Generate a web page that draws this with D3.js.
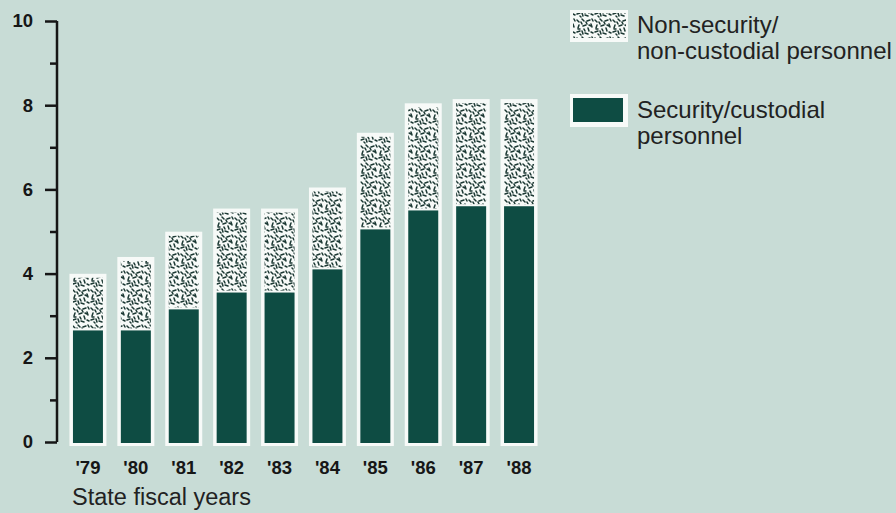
<!DOCTYPE html>
<html>
<head>
<meta charset="utf-8">
<script src="https://cdn.jsdelivr.net/npm/d3@7"></script>
<style>
  html, body { margin: 0; padding: 0; background: #c8dcd6; }
  svg { display: block; }
</style>
</head>
<body>
<svg id="chart" width="896" height="513"></svg>
<script>
// ---- data ----
const years = ["'79", "'80", "'81", "'82", "'83", "'84", "'85", "'86", "'87", "'88"];
const security = [2.65, 2.65, 3.15, 3.55, 3.55, 4.1, 5.05, 5.5, 5.6, 5.6];
const nonSecurity = [1.25, 1.65, 1.75, 1.9, 1.9, 1.85, 2.2, 2.45, 2.45, 2.45];
const yTicks = [0, 2, 4, 6, 8, 10];
const yMinorTicks = [1, 3, 5, 7, 9];
const legendLabels = [
  ["Non-security/", "non-custodial personnel"],
  ["Security/custodial", "personnel"]
];
const xTitle = "State fiscal years";

// ---- styles ----
const bg = "#c8dcd6";
const dark = "#0e4c43";
const speck = "#1b3833";
const ink = "#161616";
const font = "'Liberation Sans', Arial, Helvetica, sans-serif";

const svg = d3.select("#chart");
svg.append("rect").attr("width", 896).attr("height", 513).attr("fill", bg);

// speckle pattern (texture only)
const defs = svg.append("defs");
const pat = defs.append("pattern").attr("id", "speckle")
  .attr("patternUnits", "userSpaceOnUse").attr("width", 18).attr("height", 18);
pat.append("rect").attr("width", 18).attr("height", 18).attr("fill", "#f7faf8");
const strokes = [
  [1,2,3,4],[6,1,8,3],[11,3,14,2],[15,6,16,9],[3,7,2,10],[7,8,10,7],
  [12,10,13,13],[1,14,4,13],[6,13,7,16],[9,15,12,16],[15,14,17,15],[10,4,11,6],
  [4,16,5,17],[16,1,17,3],[5,4,6,6],[13,7,15,8],[8,11,9,13],[2,11,4,11]
];
pat.selectAll("line").data(strokes).join("line")
  .attr("x1", d => d[0]).attr("y1", d => d[1]).attr("x2", d => d[2]).attr("y2", d => d[3])
  .attr("stroke", speck).attr("stroke-width", 1.5).attr("stroke-linecap", "round");

// ---- scales ----
const x = d3.scaleBand().domain(years).range([64, 543]).paddingInner(0.374).paddingOuter(0.187);
const y = d3.scaleLinear().domain([0, 10]).range([442, 21]);

const data = years.map((yr, i) => ({ yr, sec: security[i], non: nonSecurity[i] }));

// ---- bars ----
const g = svg.append("g");
const bw = x.bandwidth();
g.selectAll("rect.frame").data(data).join("rect").attr("class", "frame")
  .attr("x", d => x(d.yr) - 3.5).attr("width", bw + 7)
  .attr("y", d => y(d.sec + d.non) - 4).attr("height", d => y(0) - y(d.sec + d.non) + 8)
  .attr("fill", "#f7faf8");
g.selectAll("rect.non").data(data).join("rect").attr("class", "non")
  .attr("x", d => x(d.yr)).attr("width", bw)
  .attr("y", d => y(d.sec + d.non)).attr("height", d => y(d.sec) - y(d.sec + d.non) - 2)
  .attr("fill", "url(#speckle)");
g.selectAll("rect.sec").data(data).join("rect").attr("class", "sec")
  .attr("x", d => x(d.yr)).attr("width", bw)
  .attr("y", d => y(d.sec)).attr("height", d => y(0) - y(d.sec) + 1)
  .attr("fill", dark);

// ---- y axis ----
const yAxis = svg.append("g").attr("transform", "translate(57,0)")
  .call(d3.axisLeft(y).tickValues(yTicks).tickSize(12).tickPadding(12).tickFormat(d3.format("d")));
yAxis.select(".domain").attr("d", `M0,${y(10)}V${y(0)}`).attr("stroke", ink).attr("stroke-width", 2.5);
yAxis.selectAll(".tick line").attr("stroke", ink).attr("stroke-width", 2.5);
yAxis.selectAll(".tick text").attr("font-family", font).attr("font-size", 18.5)
  .attr("font-weight", "bold").attr("fill", ink);
const yMinor = svg.append("g").attr("transform", "translate(57,0)")
  .call(d3.axisLeft(y).tickValues(yMinorTicks).tickSize(7).tickFormat(""));
yMinor.select(".domain").remove();
yMinor.selectAll(".tick line").attr("stroke", ink).attr("stroke-width", 2.5);

// ---- x labels ----
const xAxis = svg.append("g").attr("transform", `translate(0,${y(0)})`)
  .call(d3.axisBottom(x).tickSize(0).tickPadding(0));
xAxis.select(".domain").remove();
xAxis.selectAll(".tick text").attr("dy", null).attr("y", 32)
  .attr("font-family", font).attr("font-size", 18.5).attr("font-weight", "bold").attr("fill", ink);

svg.append("text").attr("x", 72).attr("y", 505).text(xTitle)
  .attr("font-family", font).attr("font-size", 23.5).attr("fill", "#222");

// ---- legend ----
const leg = svg.append("g");
const legY = [10, 94];
leg.selectAll("rect.lf").data(legendLabels).join("rect").attr("class", "lf")
  .attr("x", 570).attr("y", (d, i) => legY[i]).attr("width", 58).attr("height", (d, i) => i === 0 ? 32 : 33)
  .attr("fill", "#f7faf8");
leg.append("rect").attr("x", 573).attr("y", 13).attr("width", 53).attr("height", 25).attr("fill", "url(#speckle)");
leg.append("rect").attr("x", 573).attr("y", 98).attr("width", 50).attr("height", 24).attr("fill", dark);
const legBase = [[33, 59], [118, 144]];
legendLabels.forEach((lines, i) => {
  lines.forEach((t, j) => {
    leg.append("text").attr("x", 637).attr("y", legBase[i][j]).text(t)
      .attr("font-family", font).attr("font-size", 24).attr("fill", "#222");
  });
});
</script>
</body>
</html>
